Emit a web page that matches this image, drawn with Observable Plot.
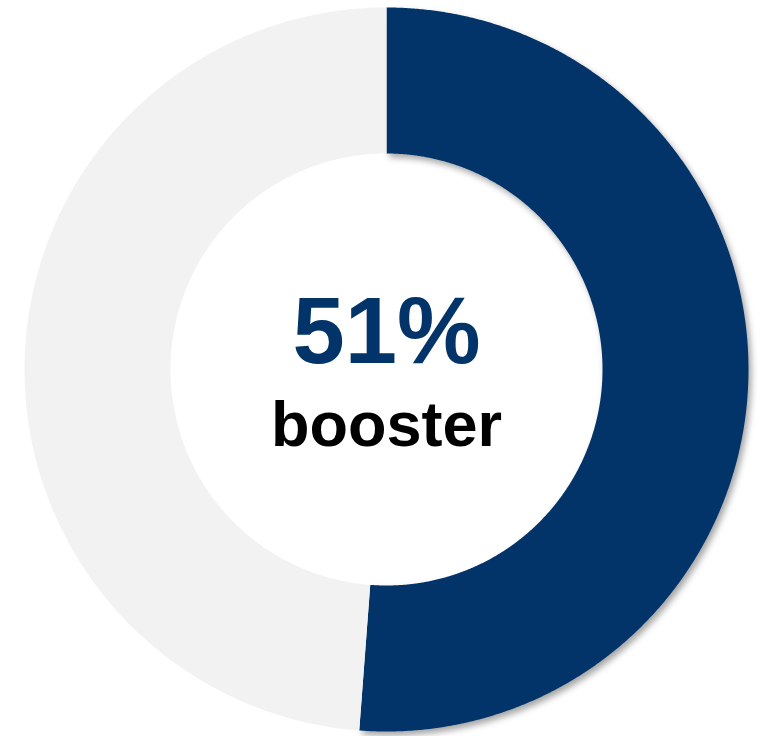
<!DOCTYPE html>
<html>
<head>
<meta charset="utf-8">
<script src="https://cdn.jsdelivr.net/npm/d3@7"></script>
<script src="https://cdn.jsdelivr.net/npm/@observablehq/plot@0.6"></script>
<style>
  html, body { margin: 0; padding: 0; background: #ffffff; }
  #chart svg { display: block; }
</style>
</head>
<body>
<div id="chart"></div>
<script>
// Data
const categories = ["booster", "no booster"];
const values = [51.2, 48.8];
const centerValue = ["51%"];
const centerLabel = ["booster"];

// Styles
const colors = ["#02346A", "#F2F2F2"];
const W = 767, H = 736;
const cx = 386, cy = 369, R = 362;
const innerRatio = 216 / 362;

const pie = d3.pie().sort(null).value(d => d.value);
const arcs = pie(categories.map((c, i) => ({label: c, value: values[i]})));

// Build ring polygons in unit coordinates (angle 0 at 12 o'clock, clockwise)
const points = [];
arcs.forEach(a => {
  const steps = Math.max(8, Math.ceil((a.endAngle - a.startAngle) / 0.005));
  for (let k = 0; k <= steps; k++) {
    const t = a.startAngle + (a.endAngle - a.startAngle) * k / steps;
    points.push({label: a.data.label, x: Math.sin(t), y: Math.cos(t)});
  }
  for (let k = steps; k >= 0; k--) {
    const t = a.startAngle + (a.endAngle - a.startAngle) * k / steps;
    points.push({label: a.data.label, x: innerRatio * Math.sin(t), y: innerRatio * Math.cos(t)});
  }
});

const chart = Plot.plot({
  width: W,
  height: H,
  margin: 0,
  style: {background: "#ffffff", overflow: "visible"},
  x: {domain: [-1, 1], range: [cx - R, cx + R], axis: null},
  y: {domain: [-1, 1], range: [cy + R, cy - R], axis: null},
  color: {domain: categories, range: colors},
  marks: [
    Plot.line(points, {x: "x", y: "y", z: "label", fill: "label", stroke: "none", curve: "linear"}),
    Plot.text(centerValue, {
      x: () => 0, y: () => 0, text: d => d, dy: -7,
      lineAnchor: "bottom", textAnchor: "middle",
      fill: colors[0], fontSize: 94, fontWeight: "bold",
      fontFamily: "Liberation Sans, Arial, sans-serif"
    }),
    Plot.text(centerLabel, {
      x: () => 0, y: () => 0, text: d => d, dy: 76,
      lineAnchor: "bottom", textAnchor: "middle",
      fill: "#000000", fontSize: 63, fontWeight: "bold",
      fontFamily: "Liberation Sans, Arial, sans-serif"
    })
  ]
});

document.getElementById("chart").appendChild(chart);

// Drop shadow on the highlighted slice
d3.select(chart).selectAll("path")
  .filter(function () { return d3.select(this).attr("fill") === colors[0]; })
  .style("filter", "drop-shadow(3px 4px 3px rgba(0,0,0,0.35))");
</script>
</body>
</html>
